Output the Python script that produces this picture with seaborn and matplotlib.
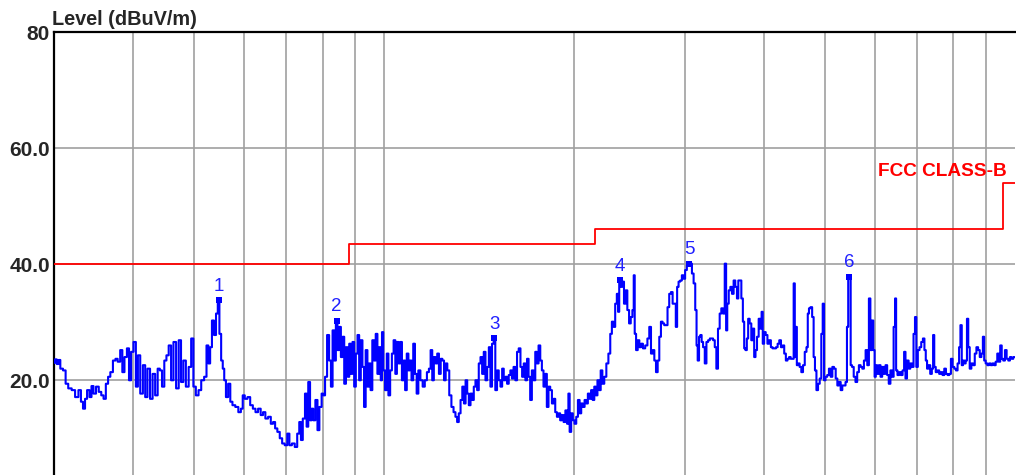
import matplotlib
matplotlib.use("Agg")
import matplotlib.pyplot as plt
from matplotlib.ticker import NullLocator, FixedLocator
import seaborn as sns

freq_mhz = [
    30.0, 30.2, 30.4, 30.6, 30.8, 31.2, 31.4, 31.8, 32.2, 32.6, 33.0, 33.2, 33.5, 33.7, 34.0, 34.3,
    34.5, 34.8, 35.15, 35.5, 35.8, 36.1, 36.4, 36.7, 37.0, 37.4, 37.7, 38.0, 38.4, 38.6, 39.0, 39.3,
    39.6, 39.9, 40.3, 40.6, 40.9, 41.3, 41.7, 42.0, 42.4, 42.8, 43.2, 43.6, 44.0, 44.3, 44.7, 45.05,
    45.4, 45.8, 46.2, 46.6, 47.1, 47.5, 47.9, 48.3, 48.8, 49.3, 49.7, 50.1, 50.6, 51.1, 51.6, 52.2,
    52.5, 52.9, 53.2, 53.6, 54.0, 54.4, 54.7, 55.05, 55.4, 55.7, 56.0, 56.4, 56.9, 57.3, 57.8, 58.5,
    59.1, 59.6, 59.9, 60.5, 61.1, 61.7, 62.3, 62.9, 63.5, 64.1, 64.6, 65.2, 65.9, 66.5, 67.0, 67.5,
    68.1, 68.7, 69.3, 70.0, 70.6, 71.1, 71.9, 72.6, 73.2, 73.7, 74.1, 74.7, 75.3, 75.6, 76.2, 76.6,
    77.1, 77.5, 78.3, 78.7, 79.4, 80.0, 80.4, 81.0, 81.6, 82.2, 82.7, 83.2, 83.7, 84.2, 84.7, 85.2,
    85.8, 86.3, 86.8, 87.4, 87.9, 88.4, 88.9, 89.5, 90.0, 90.6, 91.1, 91.7, 92.2, 92.8, 93.3, 93.9,
    94.5, 95.0, 95.6, 96.2, 96.8, 97.4, 98.0, 98.6, 99.2, 99.5, 100.1, 100.8, 101.4, 102.0, 102.7, 103.3,
    104.0, 104.6, 105.2, 105.9, 106.5, 107.2, 107.8, 108.4, 109.1, 109.7, 110.3, 111.0, 111.7, 112.4, 113.1, 113.8,
    114.8, 115.7, 116.6, 117.5, 118.3, 119.0, 119.7, 120.4, 121.2, 121.9, 122.7, 123.5, 124.2, 125.0, 125.7, 126.5,
    127.5, 128.5, 129.5, 130.3, 131.1, 131.9, 132.8, 133.6, 134.4, 135.2, 136.0, 136.8, 137.7, 138.5, 139.3, 140.2,
    141.0, 141.9, 142.8, 143.6, 144.5, 145.4, 146.3, 147.2, 148.0, 148.9, 149.8, 150.7, 151.7, 152.6, 153.6, 154.5,
    155.4, 156.4, 157.3, 158.3, 159.2, 160.1, 161.1, 162.2, 163.1, 164.2, 165.2, 166.2, 167.2, 168.2, 169.2, 170.1,
    171.2, 172.2, 173.3, 174.4, 175.4, 176.5, 177.6, 178.6, 179.7, 180.8, 181.9, 183.0, 184.2, 185.3, 186.4, 187.6,
    188.7, 189.8, 191.0, 192.2, 193.4, 194.7, 195.8, 196.6, 197.6, 198.8, 200.0, 201.3, 202.5, 203.8, 205.0, 206.2,
    207.5, 208.8, 210.0, 211.3, 212.5, 213.8, 215.0, 216.3, 217.5, 218.8, 220.1, 221.4, 222.8, 224.5, 226.2, 227.9,
    229.3, 230.6, 232.0, 233.5, 234.8, 235.6, 236.8, 238.2, 239.6, 241.1, 242.5, 244.1, 245.6, 247.1, 248.6, 249.5,
    250.4, 252.0, 253.4, 255.0, 256.5, 258.6, 260.8, 262.8, 264.4, 266.1, 267.7, 269.3, 271.0, 272.6, 274.2, 275.9,
    277.5, 279.2, 280.9, 282.6, 284.4, 286.2, 287.9, 289.7, 291.1, 292.5, 294.2, 296.0, 297.8, 299.5, 301.4, 303.3,
    305.1, 307.0, 309.0, 310.8, 312.7, 313.8, 315.3, 316.9, 318.4, 319.8, 321.8, 323.8, 325.7, 327.8, 329.8, 331.7,
    333.8, 335.8, 337.7, 339.8, 341.9, 343.9, 346.1, 348.3, 349.6, 351.2, 353.4, 355.4, 357.6, 359.7, 361.9, 364.2,
    365.5, 367.8, 370.0, 371.9, 373.6, 375.4, 377.3, 379.1, 381.4, 383.7, 385.7, 387.5, 389.4, 391.8, 394.2, 396.5,
    397.9, 399.9, 401.9, 404.5, 407.0, 409.6, 412.2, 414.7, 417.3, 419.9, 422.4, 425.0, 427.6, 430.1, 432.7, 435.3,
    437.8, 440.4, 443.0, 445.5, 447.6, 449.2, 450.9, 452.6, 454.9, 457.8, 460.6, 463.5, 466.5, 469.3, 471.0, 473.4,
    476.2, 479.2, 481.4, 483.9, 486.6, 489.6, 492.6, 495.3, 497.7, 500.0, 503.2, 506.3, 509.5, 512.7, 515.8, 519.0,
    522.2, 525.3, 528.5, 531.8, 534.8, 538.0, 541.2, 543.7, 546.2, 548.9, 550.8, 554.2, 557.8, 561.4, 564.8, 568.4,
    572.0, 575.3, 578.9, 582.5, 585.9, 589.5, 592.2, 595.8, 598.5, 601.6, 603.8, 607.4, 611.3, 615.1, 618.7, 622.5,
    626.4, 630.0, 633.8, 637.6, 641.3, 645.1, 648.0, 650.2, 654.4, 658.6, 662.5, 666.7, 669.9, 673.4, 677.3, 681.5,
    685.7, 689.6, 693.8, 697.0, 700.5, 704.7, 709.2, 713.7, 717.9, 721.6, 725.0, 728.4, 732.9, 737.4, 741.6, 744.2,
    747.9, 752.3, 757.1, 762.0, 766.6, 771.4, 776.3, 780.9, 785.7, 790.6, 795.1, 800.0, 805.1, 809.8, 814.9, 818.8,
    822.9, 826.8, 830.7, 834.8, 838.7, 842.6, 846.7, 851.6, 857.0, 862.4, 867.5, 872.9, 878.3, 883.4, 888.9, 893.0,
    897.5, 902.7, 908.4, 914.1, 919.5, 925.2, 930.9, 936.2, 941.9, 946.3, 952.1, 956.7, 962.7, 968.8, 974.5, 980.5,
    986.5, 991.1, 1000.0,
]
level_db = [
    23.0, 23.6, 22.8, 23.5, 22.0, 21.7, 19.4, 18.6, 18.3, 17.1, 18.3, 16.3, 15.1, 16.8, 18.3, 17.1,
    19.0, 17.7, 18.9, 18.0, 17.4, 16.8, 19.4, 20.6, 21.4, 23.4, 23.7, 23.2, 25.2, 21.4, 24.0, 25.5,
    20.0, 24.9, 26.6, 18.9, 24.3, 17.7, 22.6, 17.1, 22.0, 16.8, 21.1, 17.4, 22.0, 21.7, 18.9, 23.4,
    24.3, 26.0, 20.0, 26.6, 18.6, 26.9, 19.7, 23.4, 18.9, 22.3, 27.2, 18.9, 17.4, 18.3, 20.0, 20.6,
    26.0, 22.9, 25.7, 30.3, 27.8, 31.5, 33.8, 28.0, 23.4, 22.0, 20.0, 17.1, 19.4, 16.3, 15.7, 15.4,
    14.5, 15.1, 17.4, 16.8, 17.1, 15.7, 15.1, 14.5, 15.1, 14.0, 14.5, 13.4, 13.7, 12.5, 12.8, 11.7,
    11.1, 10.0, 9.1, 8.8, 10.8, 8.8, 9.1, 8.5, 10.8, 12.8, 9.7, 13.4, 17.7, 12.0, 19.7, 13.1,
    15.1, 13.1, 16.6, 11.4, 15.4, 17.7, 17.4, 20.6, 27.8, 23.4, 18.9, 28.6, 23.4, 30.3, 25.2, 29.2,
    24.0, 27.5, 19.4, 25.7, 20.6, 26.3, 21.1, 26.6, 18.9, 24.6, 27.8, 20.0, 26.9, 22.3, 15.4, 25.2,
    18.9, 22.9, 18.3, 26.9, 23.4, 28.0, 21.1, 25.7, 20.0, 28.3, 21.7, 18.3, 24.6, 17.4, 21.7, 24.6,
    26.9, 21.1, 26.6, 22.9, 26.6, 20.0, 23.4, 18.3, 24.6, 21.7, 23.4, 20.0, 26.3, 21.1, 17.7, 21.7,
    20.0, 18.9, 20.0, 21.4, 22.0, 25.2, 20.0, 24.0, 22.9, 24.6, 21.1, 23.7, 23.4, 20.0, 22.9, 21.7,
    17.4, 15.4, 14.5, 13.7, 12.8, 14.3, 16.6, 18.9, 16.0, 20.0, 17.7, 15.7, 17.7, 16.6, 18.9, 20.0,
    18.3, 22.9, 24.0, 21.1, 24.9, 20.0, 22.3, 25.7, 18.9, 26.3, 27.2, 18.3, 21.7, 20.0, 18.9, 22.0,
    20.0, 20.6, 19.4, 20.9, 21.7, 20.3, 22.3, 20.0, 24.9, 25.5, 22.3, 20.6, 22.9, 20.0, 23.7, 20.6,
    16.6, 21.7, 20.0, 24.9, 22.9, 26.0, 23.4, 21.7, 18.9, 21.1, 15.4, 18.9, 18.3, 16.0, 16.8, 14.5,
    13.7, 14.3, 13.1, 14.0, 12.8, 14.8, 12.5, 17.7, 11.1, 14.3, 13.1, 12.5, 13.7, 16.6, 14.3, 16.0,
    15.4, 16.6, 16.0, 17.7, 16.8, 18.3, 16.6, 18.9, 17.4, 20.0, 18.3, 21.7, 19.4, 20.6, 22.9, 24.6,
    28.0, 30.1, 29.2, 33.2, 34.9, 31.8, 37.2, 36.1, 37.0, 33.2, 35.5, 32.1, 29.8, 30.9, 32.1, 38.1,
    28.0, 25.2, 26.9, 25.7, 26.3, 25.5, 26.0, 27.2, 29.2, 24.6, 25.2, 23.4, 21.4, 23.4, 27.5, 30.1,
    29.8, 29.5, 29.5, 32.6, 34.9, 35.2, 33.2, 33.2, 29.2, 36.1, 37.0, 37.2, 38.1, 37.5, 39.0, 39.8,
    40.1, 40.1, 38.4, 36.7, 32.1, 26.0, 23.4, 27.5, 27.8, 26.6, 25.7, 22.9, 26.6, 26.9, 27.2, 27.2,
    26.9, 25.7, 22.0, 28.9, 31.5, 32.4, 31.5, 40.1, 28.6, 33.2, 35.5, 36.1, 34.9, 37.2, 36.1, 34.1,
    37.2, 37.2, 34.1, 30.1, 25.5, 25.2, 27.2, 30.6, 29.8, 26.9, 28.9, 24.0, 25.2, 27.5, 30.6, 28.9,
    31.8, 26.3, 28.3, 27.8, 26.3, 26.9, 25.7, 25.5, 25.5, 25.7, 26.3, 26.9, 25.7, 26.0, 24.6, 23.4,
    23.7, 24.0, 23.7, 23.7, 36.7, 24.0, 29.2, 22.6, 22.9, 22.3, 21.4, 22.6, 24.9, 25.7, 31.5, 32.4,
    32.6, 30.9, 24.0, 21.7, 18.3, 19.4, 20.3, 28.0, 33.2, 20.0, 20.6, 20.9, 22.0, 20.6, 22.3, 22.0,
    20.3, 19.1, 19.7, 18.3, 19.1, 19.1, 19.7, 29.2, 37.8, 37.8, 22.6, 22.3, 20.6, 19.7, 21.4, 22.6,
    22.3, 22.0, 23.4, 25.2, 22.6, 34.1, 25.2, 30.3, 25.2, 20.6, 22.6, 21.1, 22.6, 20.6, 22.3, 21.1,
    22.6, 20.9, 19.4, 21.7, 20.6, 29.2, 34.1, 21.7, 20.9, 21.4, 20.9, 21.7, 24.9, 20.3, 23.4, 22.0,
    22.9, 22.3, 28.0, 30.9, 22.3, 25.2, 25.7, 26.6, 27.2, 25.2, 23.4, 22.0, 22.6, 21.1, 22.0, 27.8,
    22.3, 21.4, 21.7, 21.1, 21.4, 20.9, 22.0, 21.1, 20.9, 21.1, 23.7, 22.3, 22.0, 21.7, 22.9, 25.7,
    29.5, 22.6, 23.4, 22.9, 23.4, 30.6, 25.7, 22.0, 22.9, 22.6, 24.6, 25.7, 25.2, 24.0, 24.6, 27.5,
    23.4, 22.9, 22.6, 22.9, 22.6, 22.9, 22.6, 23.2, 24.6, 23.2, 26.0, 23.7, 23.4, 25.2, 23.7, 23.4,
    24.0, 23.7, 24.0,
]

# FCC class B limit, each level holds from its frequency up to the next one
limit_freq = [30, 88, 216, 960, 1000]
limit_level = [40, 43.5, 46, 54, 54]

# marked peaks
peak_freq = [54.7, 84.2, 149.8, 236.8, 305.1, 546.2]
peak_level = [33.8, 30.3, 27.2, 37.2, 40.1, 37.8]
peak_labels = ["1", "2", "3", "4", "5", "6"]

grid_freq = [40, 50, 60, 70, 80, 90, 100, 200, 300, 400, 500, 600, 700, 800, 900]
y_ticks = [20, 40, 60, 80]
y_tick_labels = ["20.0", "40.0", "60.0", "80"]

sns.set_style("white")
plt.rcParams["font.family"] = ["Liberation Sans", "DejaVu Sans"]

fig = plt.figure(figsize=(10.16, 4.75), dpi=100)
ax = fig.add_axes([54 / 1016, -0.0448, 960.5 / 1016, 0.977])
ax.set_xscale("log")

sns.lineplot(x=limit_freq, y=limit_level, color="#ff0000", lw=1.3,
             drawstyle="steps-post", sort=False, estimator=None, ax=ax, zorder=3)
sns.lineplot(x=freq_mhz, y=level_db, color="#0000ff", lw=1.5,
             drawstyle="steps-mid", sort=False, estimator=None, ax=ax, zorder=4)
sns.scatterplot(x=peak_freq, y=peak_level, marker="s", s=16, color="#0000ff",
                linewidth=0, ax=ax, zorder=5)

for f, lv, lab in zip(peak_freq, peak_level, peak_labels):
    ax.annotate(lab, (f, lv), xytext=(0, 4), textcoords="offset points",
                ha="center", va="bottom", color="#2020ff", fontsize=13.5, zorder=6)

ax.set_xlim(30, 1000)
ax.set_ylim(0, 80)
ax.xaxis.set_major_locator(FixedLocator(grid_freq))
ax.xaxis.set_minor_locator(NullLocator())
ax.set_xticklabels([])
ax.set_yticks(y_ticks)
ax.set_yticklabels(y_tick_labels, fontsize=15, fontweight="bold")
ax.tick_params(axis="both", length=0, pad=3)
ax.grid(True, color="#a0a0a0", lw=1.2, zorder=0)
ax.set_xlabel("")
ax.set_ylabel("")

for side in ["right", "bottom"]:
    ax.spines[side].set_visible(False)
for side in ["left", "top"]:
    ax.spines[side].set_color("black")
    ax.spines[side].set_linewidth(1.6)

fig.text(52 / 1016, 1 - 25 / 475, "Level (dBuV/m)", fontsize=14.3,
         fontweight="bold", va="baseline", ha="left")
fig.text(1006.7 / 1016, 1 - 176 / 475, "FCC CLASS-B", fontsize=13.7,
         fontweight="bold", color="#ff0000", va="baseline", ha="right")

fig.savefig("out.png", dpi=100)
